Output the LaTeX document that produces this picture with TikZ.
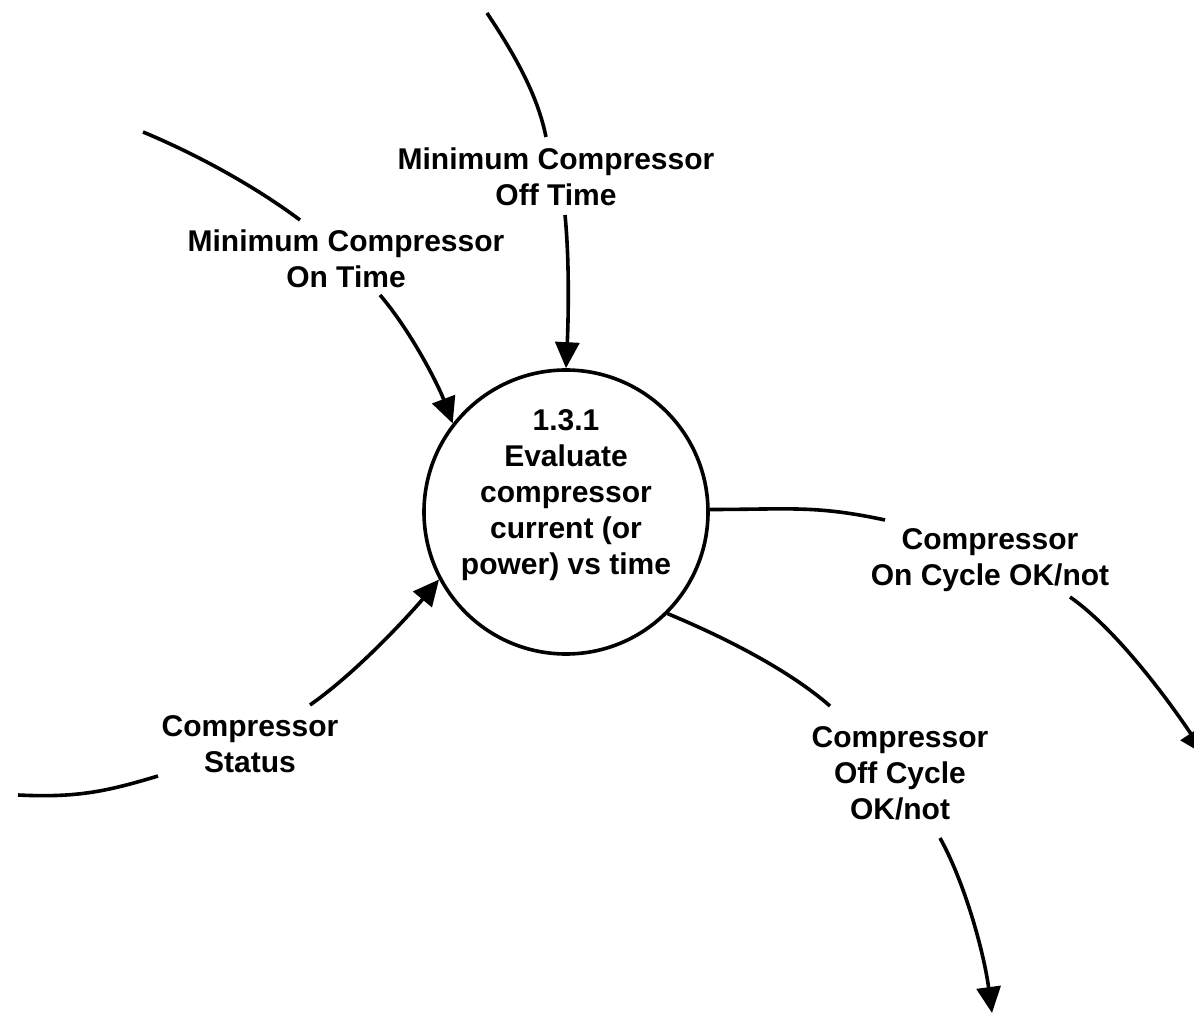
\documentclass[tikz,border=0pt]{standalone}
\usepackage{fontspec}
\setmainfont{Liberation Sans}
\usepackage{tikz}
\usetikzlibrary{arrows.meta}

\begin{document}
\begin{tikzpicture}[x=0.5pt, y=-0.5pt,
        flow/.style={line width=1.8pt},
        flowto/.style={line width=1.8pt, -{Triangle[length=13pt, width=12pt]}},
        lbl/.style={align=center, font=\bfseries\fontsize{15}{18}\selectfont, inner sep=0pt}]
                \clip (0, 0) rectangle (1194, 1015);

                % process bubble
                \node[draw, circle, line width=1.8pt, minimum size=142pt, inner sep=0pt] (proc) at (566, 512) {};
                \node[lbl] (proctxt) at (566, 495) {1.3.1\\Evaluate\\compressor\\current (or\\power) vs time};

                % flow labels
                \node[lbl] (offtime) at (556, 177) {Minimum Compressor\\Off Time};
                \node[lbl] (ontime) at (346, 259) {Minimum Compressor\\On Time};
                \node[lbl] (status) at (250, 744) {Compressor\\Status};
                \node[lbl] (oncycle) at (990, 560) {Compressor\\On Cycle OK/not};
                \node[lbl] (offcycle) at (900, 773) {Compressor\\Off Cycle\\OK/not};

                \coordinate (offA) at (487, 13);
                \coordinate (offB) at (546, 137);
                \coordinate (offC) at (565, 215);
                \coordinate (onA) at (143, 132);
                \coordinate (onB) at (300, 220);
                \coordinate (onC) at (380, 295);
                \coordinate (stA) at (18, 795);
                \coordinate (stB) at (158, 776);
                \coordinate (stC) at (310, 705);
                \coordinate (ocB) at (885, 520);
                \coordinate (ocC) at (1070, 597);
                \coordinate (ocD) at (1205, 755);
                \coordinate (ofB) at (830, 706);
                \coordinate (ofC) at (940, 838);
                \coordinate (ofD) at (992, 1013);

                % inputs
                \draw[flow] (offA) .. controls +(30, 45) and +(-8, -40) .. (offB);
                \draw[flowto] (offC) .. controls +(5, 50) and +(2, -40) .. (proc.north);
                \draw[flow] (onA) .. controls +(60, 25) and +(-40, -30) .. (onB);
                \draw[flowto] (onC) .. controls +(30, 35) and +(-15, -40) .. (proc.142);
                \draw[flow] (stA) .. controls +(60, 3) and +(-50, 15) .. (stB);
                \draw[flowto] (stC) .. controls +(50, -35) and +(-25, 30) .. (proc.208);

                % outputs
                \draw[flow] (proc.1) .. controls +(80, 0) and +(-70, -15) .. (ocB);
                \draw[flowto] (ocC) .. controls +(50, 35) and +(-30, -45) .. (ocD);
                \draw[flow] (proc.315) .. controls +(60, 25) and +(-40, -35) .. (ofB);
                \draw[flowto] (ofC) .. controls +(25, 45) and +(-8, -60) .. (ofD);
            \end{tikzpicture}
\end{document}
